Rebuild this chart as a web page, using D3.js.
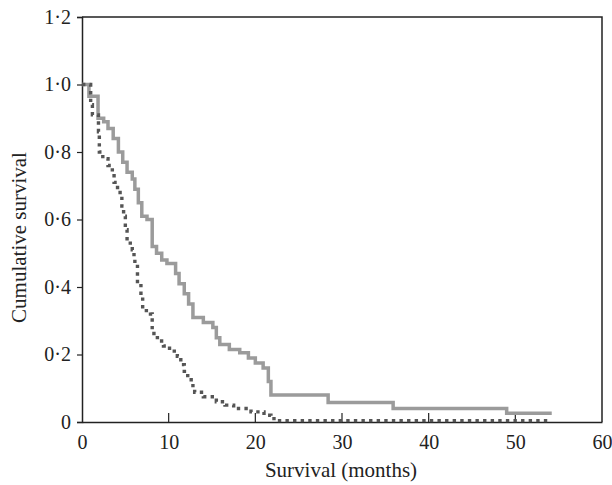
<!DOCTYPE html>
<html>
<head>
<meta charset="utf-8">
<script src="https://cdn.jsdelivr.net/npm/d3@7"></script>
<style>
  body { margin: 0; background: #fff; }
  svg text { font-family: "Liberation Serif", "Times New Roman", serif; fill: #222; }
</style>
</head>
<body>
<svg id="chart" width="612" height="485"></svg>
<script>
// Kaplan-Meier steps: [month, cumulative survival after the step]
const groupA = [
  [0, 1.0], [0.8, 0.965], [1.85, 0.90], [2.5, 0.89], [3.0, 0.87], [3.6, 0.84],
  [4.2, 0.80], [4.7, 0.77], [5.2, 0.74], [5.8, 0.72], [6.1, 0.69], [6.5, 0.65],
  [6.9, 0.61], [7.5, 0.60], [8.1, 0.52], [8.6, 0.50], [9.2, 0.48], [9.8, 0.47],
  [10.8, 0.44], [11.2, 0.41], [11.8, 0.38], [12.3, 0.35], [12.8, 0.31], [14.0, 0.295],
  [15.1, 0.28], [15.5, 0.25], [15.9, 0.23], [17.0, 0.215], [18.2, 0.205], [19.2, 0.19],
  [20.0, 0.175], [20.9, 0.16], [21.5, 0.12], [21.8, 0.08], [28.4, 0.058], [35.9, 0.04],
  [49.0, 0.026]
];
const groupAEnd = 54.2;

const groupB = [
  [0, 1.0], [1.0, 0.94], [1.2, 0.91], [1.9, 0.86], [2.0, 0.80], [2.4, 0.78],
  [3.0, 0.76], [3.5, 0.74], [3.7, 0.71], [4.1, 0.68], [4.6, 0.64], [4.8, 0.61],
  [5.0, 0.57], [5.2, 0.53], [5.8, 0.51], [6.0, 0.49], [6.1, 0.47], [6.4, 0.41],
  [6.8, 0.37], [7.0, 0.33], [7.9, 0.32], [8.1, 0.27], [8.3, 0.25], [8.7, 0.24],
  [9.4, 0.225], [10.1, 0.21], [11.0, 0.195], [11.4, 0.17], [11.8, 0.15], [12.2, 0.125],
  [12.8, 0.10], [13.0, 0.088], [14.0, 0.075], [15.5, 0.06], [16.5, 0.05], [17.5, 0.04],
  [19.5, 0.03], [21.0, 0.02], [21.8, 0.01], [22.5, 0.004]
];
const groupBEnd = 54.0;

const xTicks = [0, 10, 20, 30, 40, 50, 60];
const yTicks = [0, 0.2, 0.4, 0.6, 0.8, 1.0, 1.2];

const svg = d3.select("#chart");
const margin = { left: 82, right: 10, top: 17, bottom: 63 };
const width = 612 - margin.left - margin.right;
const height = 485 - margin.top - margin.bottom;

const x = d3.scaleLinear().domain([0, 60]).range([0, width]);
const y = d3.scaleLinear().domain([0, 1.2]).range([height, 0]);

const g = svg.append("g").attr("transform", `translate(${margin.left},${margin.top})`);

const fmt = d => d === 0 ? "0" : d3.format(".1f")(d).replace(".", "·");

// frame (top and right)
g.append("path")
  .attr("d", `M0,0H${width}V${height}`)
  .attr("fill", "none")
  .attr("stroke", "#222")
  .attr("stroke-width", 1.5);

const yAxis = g.append("g")
  .call(d3.axisLeft(y).tickValues(yTicks).tickFormat(fmt).tickSize(5).tickPadding(6));
const xAxis = g.append("g")
  .attr("transform", `translate(0,${height})`)
  .call(d3.axisBottom(x).tickValues(xTicks).tickSize(0).tickPadding(13));

// inward x ticks
g.append("g").selectAll("line")
  .data(xTicks.slice(1, -1))
  .enter().append("line")
  .attr("x1", d => x(d)).attr("x2", d => x(d))
  .attr("y1", height).attr("y2", height - 9)
  .attr("stroke", "#222").attr("stroke-width", 1.2);

[xAxis, yAxis].forEach(a => {
  a.select(".domain").attr("stroke", "#222").attr("stroke-width", 1.5);
  a.selectAll(".tick line").attr("stroke", "#222").attr("stroke-width", 1.2);
  a.selectAll("text").attr("font-size", 20).attr("font-family", "Liberation Serif").attr("fill", "#222");
});

const stepLine = d3.line().x(d => x(d[0])).y(d => y(d[1])).curve(d3.curveStepAfter);

g.append("path")
  .datum(groupA.concat([[groupAEnd, groupA[groupA.length - 1][1]]]))
  .attr("d", stepLine)
  .attr("fill", "none")
  .attr("stroke", "#9b9b9b")
  .attr("stroke-width", 3.5);

g.append("path")
  .datum(groupB.concat([[groupBEnd, groupB[groupB.length - 1][1]]]))
  .attr("d", stepLine)
  .attr("fill", "none")
  .attr("stroke", "#555")
  .attr("stroke-width", 3.4)
  .attr("stroke-dasharray", "3.4,4.2");

svg.append("text")
  .attr("x", margin.left + width / 2 - 1)
  .attr("y", 477)
  .attr("text-anchor", "middle")
  .attr("font-size", 21)
  .text("Survival (months)");

svg.append("text")
  .attr("transform", `translate(26,${margin.top + height / 2 + 18}) rotate(-90)`)
  .attr("text-anchor", "middle")
  .attr("font-size", 21)
  .text("Cumulative survival");
</script>
</body>
</html>
